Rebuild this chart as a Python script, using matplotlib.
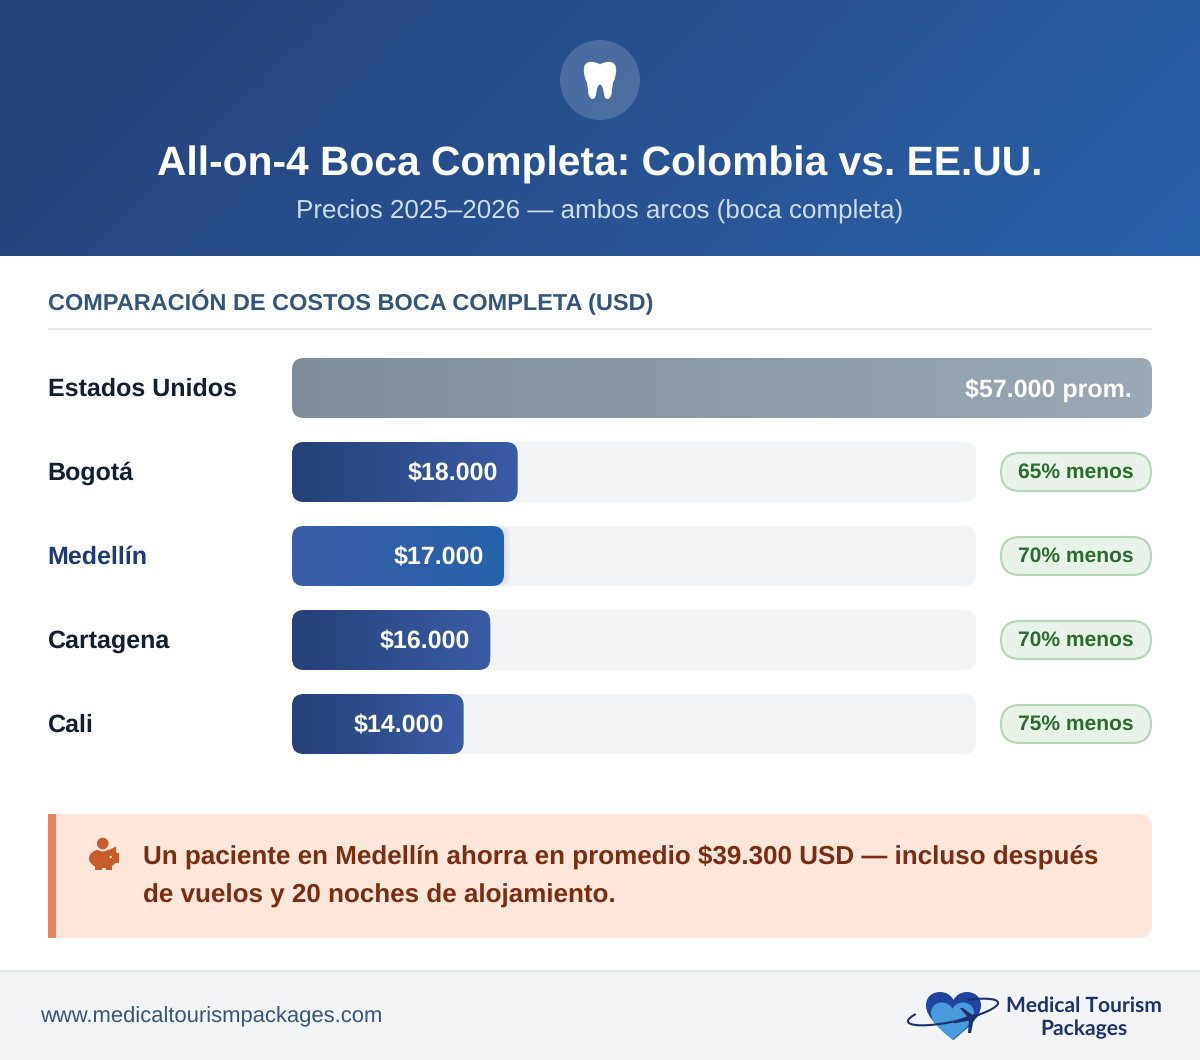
import numpy as np
import matplotlib
matplotlib.use('Agg')
import matplotlib.pyplot as plt
from matplotlib.colors import LinearSegmentedColormap
from matplotlib.patches import FancyBboxPatch, Circle, Ellipse, Rectangle, PathPatch, Polygon
from matplotlib.path import Path

# data
ciudades = ['Estados Unidos', 'Bogotá', 'Medellín', 'Cartagena', 'Cali']
precios = ['$57.000 prom.', '$18.000', '$17.000', '$16.000', '$14.000']
ancho_pct = [100, 33, 31, 29, 25.1]
ahorros = [None, '65% menos', '70% menos', '70% menos', '75% menos']

titulo = 'All-on-4 Boca Completa: Colombia vs. EE.UU.'
subtitulo = 'Precios 2025–2026 — ambos arcos (boca completa)'
seccion = 'COMPARACIÓN DE COSTOS BOCA COMPLETA (USD)'
nota = ['Un paciente en Medellín ahorra en promedio $39.300 USD — incluso después',
        'de vuelos y 20 noches de alojamiento.']
web = 'www.medicaltourismpackages.com'

plt.rcParams['font.family'] = ['Liberation Sans', 'DejaVu Sans']
plt.rcParams['text.hinting'] = 'no_hinting'
plt.rcParams['text.hinting_factor'] = 8
PX = 0.72

fig = plt.figure(figsize=(12, 10.6), dpi=100)
ax = fig.add_axes([0, 0, 1, 1])
ax.axis('off')


def redondeado(x, y, w, h, r, **kw):
    return FancyBboxPatch((x + r, y + r), w - 2 * r, h - 2 * r,
                          boxstyle='round,pad=%f,rounding_size=%f' % (r, r), **kw)


def degradado(x, y, w, h, c1, c2, angulo=90, clip=None, z=2):
    a = np.deg2rad(angulo)
    sa, ca = np.sin(a), np.cos(a)
    xx, yy = np.meshgrid(np.linspace(-w / 2, w / 2, 300), np.linspace(-h / 2, h / 2, 100))
    largo = abs(w * sa) + abs(h * ca)
    t = (xx * sa - yy * ca) / largo + 0.5
    cmap = LinearSegmentedColormap.from_list('g', [c1, c2])
    im = ax.imshow(t, extent=(x, x + w, y + h, y), origin='upper', cmap=cmap, vmin=0, vmax=1,
                   aspect='auto', zorder=z, interpolation='bilinear')
    if clip is not None:
        ax.add_patch(clip)
        clip.set_facecolor('none')
        clip.set_edgecolor('none')
        im.set_clip_path(clip)
    return im


def texto(x, y, s, px, color, weight='normal', ha='left', z=6, **kw):
    return ax.text(x, y, s, fontsize=px * PX, color=color, fontweight=weight, ha=ha,
                   va='center_baseline', zorder=z, **kw)


# cabecera
degradado(0, 0, 1200, 256, '#264078', '#2862aa', 135, z=1)
ax.add_patch(Circle((600, 80), 40, fc='white', alpha=0.17, ec='none', zorder=2))
puntos_muela = [(600, 64.5), (604.5, 62), (609, 62), (616, 62), (616, 70), (616, 77), (613, 82),
                (612, 87), (611.5, 93), (610.5, 98.8), (607.5, 98.8), (604.5, 98.8), (604, 93),
                (603, 84.5), (600, 84.5), (597, 84.5), (596, 93), (595.5, 98.8), (592.5, 98.8),
                (589.5, 98.8), (588.5, 93), (588, 87), (587, 82), (584, 77), (584, 70),
                (584, 62), (591, 62), (595.5, 62), (600, 64.5), (600, 64.5)]
codigos = [Path.MOVETO] + [Path.CURVE3] * 28 + [Path.CLOSEPOLY]
ax.add_patch(PathPatch(Path(puntos_muela, codigos), fc='white', ec='white', lw=0.3, zorder=3))
texto(600, 160.5, titulo, 40.8, 'white', 'bold', 'center')
texto(600, 209, subtitulo, 26, '#cfdcee', 'normal', 'center')

# seccion
texto(48, 300, seccion, 23.5, '#34557a', 'bold')
ax.add_patch(Rectangle((48, 328), 1104, 2, fc='#e5e7eb', ec='none', zorder=2))

# barras
x_barra = 292
alto = 60
filas_y = [358, 442, 526, 610, 694]
pista = 684
for i, ciudad in enumerate(ciudades):
    y = filas_y[i]
    color_txt = '#1e3a78' if ciudad == 'Medellín' else '#111f30'
    texto(47.7, y + 28.5, ciudad, 25, color_txt, 'bold')
    if ahorros[i] is None:
        w = 860 * ancho_pct[i] / 100
        c1, c2 = '#7f8c9b', '#9ba9b6'
    else:
        ax.add_patch(redondeado(x_barra, y, pista, alto, 12, fc='#f3f4f6', ec='none', zorder=1.5))
        w = pista * ancho_pct[i] / 100
        if ciudad == 'Medellín':
            c1, c2 = '#3a5ca6', '#2563ab'
            for g in range(1, 7):
                ax.add_patch(redondeado(x_barra, y, w + g * 1.2, alto, 12, fc='#2563ab', alpha=0.02,
                                        ec='none', zorder=1.7))
        else:
            c1, c2 = '#264078', '#3a5ca6'
        ax.add_patch(redondeado(x_barra + pista + 25, y + 11, 150, 38, 19, fc='#e8f2e8', ec='#b5d6b6', lw=1.5, zorder=3))
        texto(1076, y + 28.5, ahorros[i], 21, '#2a6b2e', 'bold', 'center')
    degradado(x_barra, y, w, alto, c1, c2, 90, clip=redondeado(x_barra, y, w, alto, 12, transform=ax.transData))
    texto(x_barra + w - 20, y + 29.3, precios[i], 25, 'white', 'bold', 'right')

# nota
ax.add_patch(redondeado(48, 814, 1104, 124, 14, fc='#ffe6da', ec='none', zorder=1))
ax.add_patch(Rectangle((48, 814), 30, 124, fc='#ffe6da', ec='none', zorder=1))
ax.add_patch(Rectangle((48, 814), 8, 124, fc='#e8845c', ec='none', zorder=2))
texto(143.3, 854, nota[0], 26, '#7b2d10', 'bold')
texto(143.3, 892.8, nota[1], 26, '#7b2d10', 'bold')

# cerdito
naranja = '#c65d2b'
ax.add_patch(Ellipse((103, 858.5), 28, 19, fc=naranja, ec='none', zorder=3))
ax.add_patch(Rectangle((112, 853), 6.8, 10, fc=naranja, ec='none', zorder=3))
ax.add_patch(Polygon([(107, 851), (116, 846.5), (116.5, 856)], fc=naranja, ec='none', zorder=3))
ax.add_patch(Rectangle((95, 863), 6.5, 6.8, fc=naranja, ec='none', zorder=3))
ax.add_patch(Rectangle((105.5, 863), 6.5, 6.8, fc=naranja, ec='none', zorder=3))
ax.add_patch(Circle((102.7, 843.5), 8, fc='#ffe6da', ec='none', zorder=4))
ax.add_patch(Circle((102.7, 843.5), 5.8, fc=naranja, ec='none', zorder=5))
ax.add_patch(Circle((110.7, 857), 1.2, fc='#ffe6da', ec='none', zorder=5))

# pie
ax.add_patch(Rectangle((0, 970), 1200, 90, fc='#f3f4f6', ec='none', zorder=1))
ax.add_patch(Rectangle((0, 970), 1200, 2, fc='#e5e7eb', ec='none', zorder=2))
texto(39.6, 1014.5, web, 22, '#34557a')

# logo
def corazon(cx, top, w, h):
    izq = [(cx - .2 * w, top + .8 * h), (cx - .5 * w, top + .55 * h), (cx - .5 * w, top + .28 * h),
           (cx - .5 * w, top + .08 * h), (cx - .36 * w, top), (cx - .25 * w, top),
           (cx - .13 * w, top), (cx - .04 * w, top + .07 * h), (cx, top + .17 * h)]
    der = [(2 * cx - px, py) for px, py in izq[-2::-1]] + [(cx, top + h)]
    v = [(cx, top + h)] + izq + der + [(cx, top + h)]
    return Path(v, [Path.MOVETO] + [Path.CURVE4] * 18 + [Path.CLOSEPOLY])


ax.add_patch(PathPatch(corazon(953.5, 992, 55, 48), fc='#1f45a0', ec='none', zorder=3))
ax.add_patch(PathPatch(corazon(952.5, 1002.5, 43, 37.5), fc='#4a9ade', ec='none', zorder=4))
t = np.deg2rad(np.linspace(-68, 215, 160))
rot = np.deg2rad(-12)
ex, ey = 46 * np.cos(t), 9.5 * np.sin(t)
ax.plot(953 + ex * np.cos(rot) - ey * np.sin(rot), 1012 + ex * np.sin(rot) + ey * np.cos(rot),
        color='#1c3170', lw=1.5, zorder=5, solid_capstyle='round')
ax.add_patch(Polygon([(954, 1023.5), (972, 1020), (980, 1015), (974, 1014), (954, 1021)], fc='#1c3170', ec='none', zorder=6))
ax.add_patch(Polygon([(960, 1008), (963, 1008), (975, 1017), (970, 1020)], fc='#1c3170', ec='none', zorder=6))
ax.add_patch(Polygon([(968, 1033), (971, 1033), (974, 1018), (969, 1019)], fc='#1c3170', ec='none', zorder=6))
texto(1084, 1004.5, 'Medical Tourism', 21, '#1c3170', 'bold', 'center', family=['Lato', 'DejaVu Sans'])
texto(1084, 1027, 'Packages', 21, '#1c3170', 'bold', 'center', family=['Lato', 'DejaVu Sans'])

ax.set_xlim(0, 1200)
ax.set_ylim(1060, 0)
fig.savefig('out.png', dpi=100)
